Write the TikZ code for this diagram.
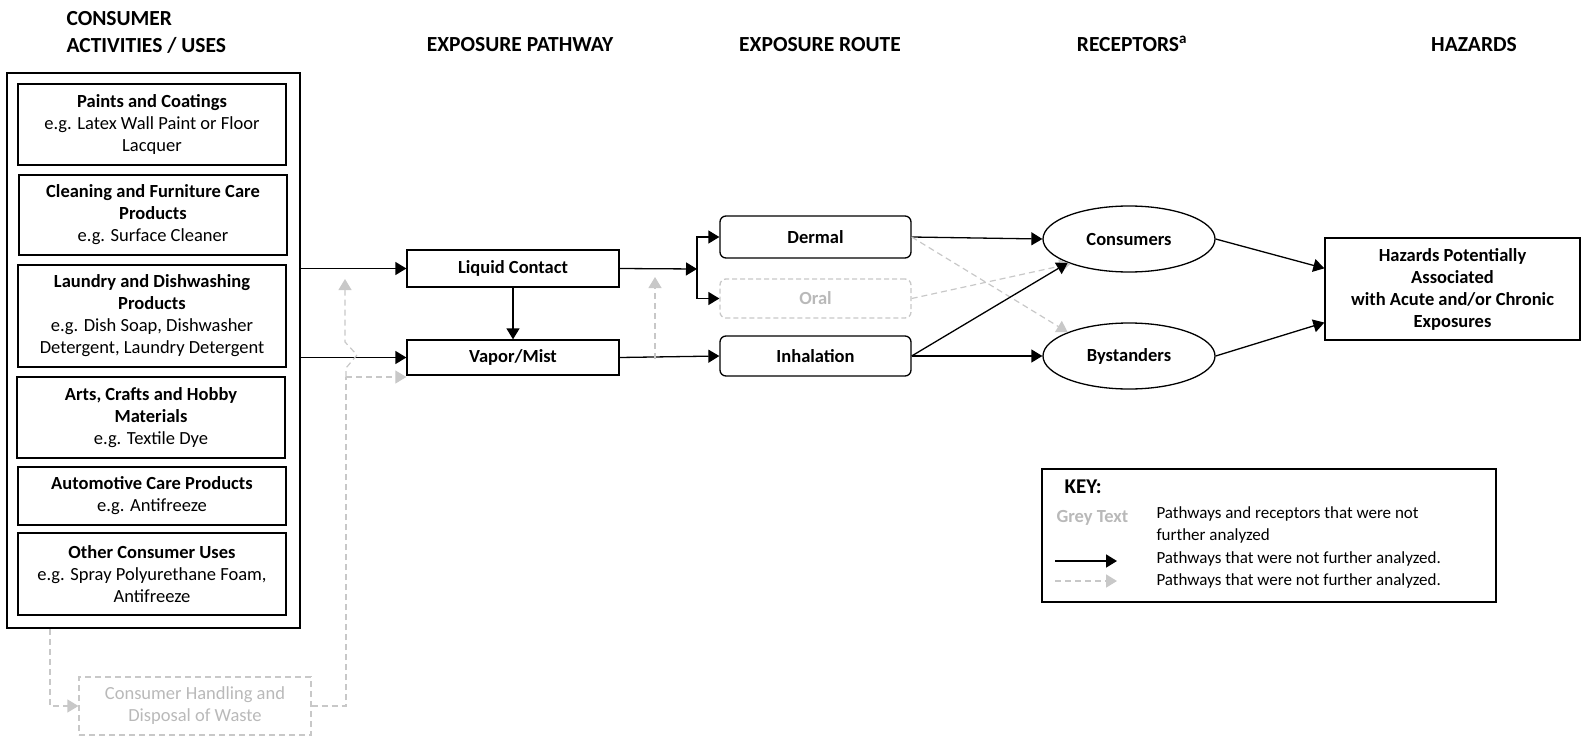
\documentclass[tikz,border=0pt]{standalone}
\usepackage{fontspec}
\setmainfont{Carlito}
\usetikzlibrary{arrows.meta,shapes.geometric,calc}
\definecolor{gtext}{RGB}{185,185,185}
\definecolor{gline}{RGB}{200,200,200}
\begin{document}
\begin{tikzpicture}[x=1pt,y=-1pt,
  every node/.style={font=\fontsize{18.5}{22}\selectfont},
  hdr/.style={font=\fontsize{21.5}{27}\selectfont\bfseries},
  keytext/.style={anchor=west, font=\fontsize{17}{22}\selectfont},
  usebox/.style={draw, line width=1.3pt, minimum width=268pt, align=center, inner sep=0pt},
  pathbox/.style={draw, line width=1.3pt, minimum width=212pt, align=center, inner sep=0pt},
  route/.style={draw, line width=1.3pt, rounded corners=6pt, minimum width=191pt, align=center, inner sep=0pt},
  recep/.style={draw, ellipse, line width=1.3pt, minimum width=172pt, minimum height=66pt, inner sep=0pt},
  arr/.style={line width=1.3pt, -{Triangle[length=11pt,width=13pt]}},
  gl/.style={draw=gline, line width=1.2pt, dash pattern=on 6pt off 4pt},
  garr/.style={gl, -{Triangle[length=11pt,width=13pt,fill=gline]}},
]
\useasboundingbox (0,0) rectangle (1585,736);

% headers
\node[hdr, anchor=west, align=left] (h1) at (63,32) {CONSUMER\\ACTIVITIES / USES};
\node[hdr] (h2) at (520,45) {EXPOSURE PATHWAY};
\node[hdr] (h3) at (820,45) {EXPOSURE ROUTE};
\node[hdr] (h4) at (1132,44) {RECEPTORS\textsuperscript{a}};
\node[hdr] (h5) at (1474,45) {HAZARDS};

% consumer uses
\node[draw, line width=1.3pt, minimum width=293pt, minimum height=555pt, inner sep=0pt] (outer) at (153.5,350.5) {};
\node[usebox, minimum height=81pt] (paint) at (152,124.5) {\textbf{Paints and Coatings}\\e.g. Latex Wall Paint or Floor\\Lacquer};
\node[usebox, minimum height=80pt] (clean) at (153,215) {\textbf{Cleaning and Furniture Care}\\\textbf{Products}\\e.g. Surface Cleaner};
\node[usebox, minimum height=102pt] (laund) at (152,316) {\textbf{Laundry and Dishwashing}\\\textbf{Products}\\e.g. Dish Soap, Dishwasher\\Detergent, Laundry Detergent};
\node[usebox, minimum height=81pt] (arts) at (151,417.5) {\textbf{Arts, Crafts and Hobby}\\\textbf{Materials}\\e.g. Textile Dye};
\node[usebox, minimum height=58pt] (auto) at (152,496) {\textbf{Automotive Care Products}\\e.g. Antifreeze};
\node[usebox, minimum height=82pt] (other) at (152,574) {\textbf{Other Consumer Uses}\\e.g. Spray Polyurethane Foam,\\Antifreeze};

% waste
\node[draw=gline, line width=1.2pt, dash pattern=on 6pt off 4pt, text=gtext, minimum width=232pt, minimum height=58pt, align=center, inner sep=0pt] (waste) at (195,706) {Consumer Handling and\\Disposal of Waste};

% exposure pathway
\node[pathbox, minimum height=37pt] (lc) at (513,268.5) {\textbf{Liquid Contact}};
\node[pathbox, minimum height=35pt] (vm) at (513,357.5) {\textbf{Vapor/Mist}};

% exposure routes
\node[route, minimum height=42pt] (derm) at (815.5,237) {\textbf{Dermal}};
\node[route, draw=gline, dash pattern=on 5pt off 3pt, text=gtext, minimum height=39pt] (oral) at (815.5,298.5) {\textbf{Oral}};
\node[route, minimum height=40pt] (inh) at (815.5,356) {\textbf{Inhalation}};

% receptors
\node[recep] (cons) at (1129,239) {\textbf{Consumers}};
\node[recep] (bys) at (1129,356) {\textbf{Bystanders}};

% hazards
\node[draw, line width=1.3pt, minimum width=255pt, minimum height=102pt, align=center, inner sep=0pt] (haz) at (1452.5,289) {\textbf{Hazards Potentially}\\\textbf{Associated}\\\textbf{with Acute and/or Chronic}\\\textbf{Exposures}};

% connectors
\draw[arr] (outer.east |- lc.west) -- (lc.west);
\draw[arr] (outer.east |- vm.west) -- (vm.west);
\draw[arr] (lc.south) -- (vm.north);
\coordinate (J) at (697,269);
\draw[arr] (lc.east) -- (J);
\draw[arr] (J) |- (derm.west);
\draw[arr] (J) |- (oral.west);
\draw[arr] (vm.east) -- (inh.west);
\coordinate (g1) at (655,359);
\coordinate (g1t) at (655,277);
\draw[garr] (g1) -- (g1t);

\draw[arr] (derm.east) -- (cons.west);
\draw[garr] (derm.east) -- (bys.north west);
\draw[garr] (oral.east) -- (cons.203);
\draw[arr] (inh.east) -- (cons.south west);
\draw[arr] (inh.east) -- (bys.west);
\draw[arr] (cons.east) -- ($(haz.west)!0.4!(haz.north west)$);
\draw[arr] (bys.east) -- ($(haz.west)!0.65!(haz.south west)$);

% waste paths
\coordinate (wa) at (50,629);
\draw[garr] (wa) |- (waste.west);
\coordinate (wj) at (346,377);
\draw[gl] (waste.east) -| (wj);
\draw[garr] (wj) -- (wj -| vm.west);
\coordinate (wup) at (345,279);
\draw[garr] (wj) -- ++(0,-9) -- ++(11,-13) -- ++(-12,-13) -- (wup);

% key
\node[draw, line width=1.3pt, minimum width=454pt, minimum height=133pt, inner sep=0pt] (key) at (1269,535.5) {};
\node[anchor=west, font=\fontsize{21}{22}\selectfont\bfseries] (kt) at (1061,487) {KEY:};
\node[anchor=west, text=gtext, font=\fontsize{18.5}{22}\selectfont\bfseries] (kg) at (1053,518) {Grey Text};
\node[keytext, align=left] (kd1) at (1153,525) {Pathways and receptors that were not\\further analyzed};
\coordinate (k1a) at (1055,561);
\coordinate (k1b) at (1117,561);
\draw[arr, line width=1.8pt] (k1a) -- (k1b);
\node[keytext] (kd2) at (1153,559) {Pathways that were not further analyzed.};
\coordinate (k2a) at (1055,581);
\coordinate (k2b) at (1117,581);
\draw[garr, line width=1.8pt] (k2a) -- (k2b);
\node[keytext] (kd3) at (1153,581) {Pathways that were not further analyzed.};
\end{tikzpicture}
\end{document}
